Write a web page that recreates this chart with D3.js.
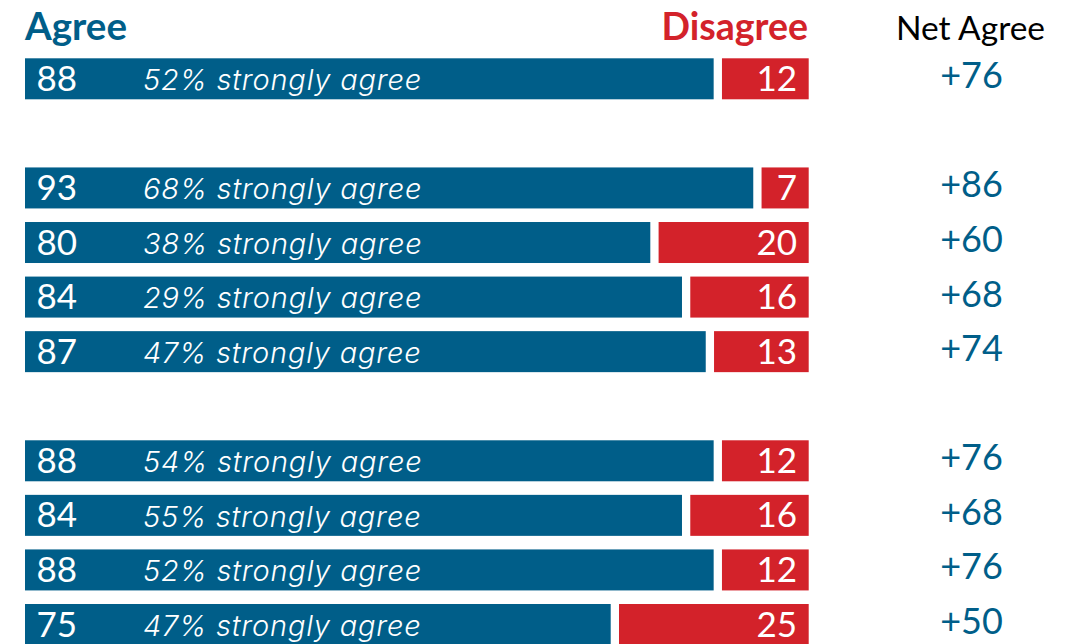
<!DOCTYPE html>
<html><head><meta charset="utf-8">
<script src="https://cdn.jsdelivr.net/npm/d3@7"></script>
<style>body{margin:0;background:#fff}svg{display:block}</style>
</head><body>
<svg id="c" width="1074" height="644"></svg>
<script>
const slots = [0, 2, 3, 4, 5, 7, 8, 9, 10];
const agree = [88, 93, 80, 84, 87, 88, 84, 88, 75];
const disagree = [12, 7, 20, 16, 13, 12, 16, 12, 25];
const strongly = [52, 68, 38, 29, 47, 54, 55, 52, 47];
const net = [76, 86, 60, 68, 74, 76, 68, 76, 50];
const headers = ["Agree", "Disagree", "Net Agree"];

const BLUE = "#005e89", RED = "#d3222a";
const FONT = "Lato, 'Open Sans', sans-serif";
const IFONT = "Inter, 'Open Sans', sans-serif";
const svg = d3.select("#c");
const x = d3.scaleLinear().domain([0, 100]).range([25, 817]);
const y = d3.scaleLinear().domain([0, 10]).range([58.3, 604]);
const bh = 41, gap = 8.3;

const rows = slots.map((s, i) => ({s, a: agree[i], d: disagree[i], st: strongly[i], n: net[i]}));

svg.append("text").attr("x", 25).attr("y", 40).attr("fill", BLUE)
  .attr("font-family", FONT).attr("font-weight", 700).attr("font-size", 38.5).text(headers[0]);
svg.append("text").attr("x", 808).attr("y", 40).attr("fill", RED).attr("text-anchor", "end")
  .attr("font-family", FONT).attr("font-weight", 700).attr("font-size", 37.5).text(headers[1]);
svg.append("text").attr("x", 970.5).attr("y", 40).attr("fill", "#000").attr("text-anchor", "middle")
  .attr("font-family", FONT).attr("font-weight", 400).attr("font-size", 33.5).text(headers[2]);

const g = svg.selectAll("g.row").data(rows).join("g").attr("class", "row")
  .attr("transform", d => `translate(0,${y(d.s)})`);

g.append("rect").attr("x", x(0)).attr("y", 0).attr("height", bh)
  .attr("width", d => x(d.a) - x(0) - gap).attr("fill", BLUE);
g.append("rect").attr("x", d => x(d.a)).attr("y", 0).attr("height", bh)
  .attr("width", d => x(100) - x(d.a) - gap).attr("fill", RED);

g.append("text").attr("x", 36.5).attr("y", 32.5).attr("fill", "#fff")
  .attr("font-family", FONT).attr("font-size", 35).text(d => d.a);
g.append("text").attr("x", 143).attr("y", 31.8).attr("fill", "#fff")
  .attr("font-family", IFONT).attr("font-style", "italic").attr("font-weight", 300)
  .attr("font-size", 29).attr("letter-spacing", 0.8)
  .text(d => `${d.st}% strongly agree`);
g.append("text").attr("x", 797).attr("y", 32.5).attr("fill", "#fff").attr("text-anchor", "end")
  .attr("font-family", FONT).attr("font-size", 35).text(d => d.d);
g.append("text").attr("x", 971.5).attr("y", 30).attr("fill", BLUE).attr("text-anchor", "middle")
  .attr("font-family", FONT).attr("font-size", 36).text(d => "+" + d.n);
</script>
</body></html>
